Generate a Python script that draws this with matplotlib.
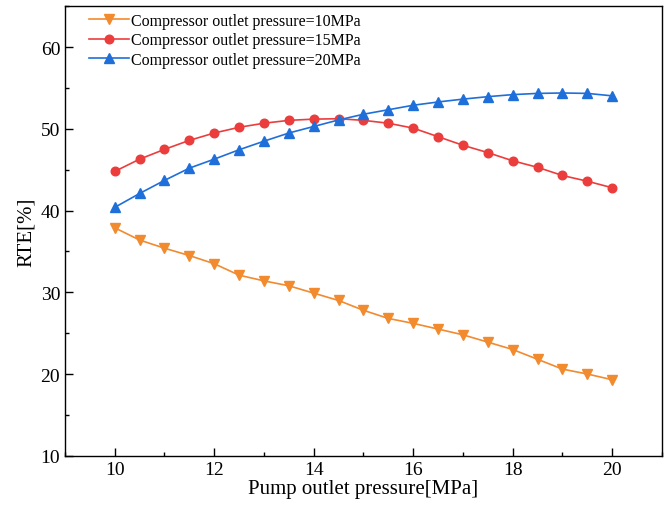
import numpy as np
import matplotlib
matplotlib.use("Agg")
import matplotlib.pyplot as plt
from matplotlib.ticker import MultipleLocator

plt.rcParams['font.family'] = ['Liberation Serif', 'DejaVu Serif']
plt.rcParams['mathtext.fontset'] = 'stix'

# --- data ---
pump_pressure = [10, 10.5, 11, 11.5, 12, 12.5, 13, 13.5, 14, 14.5, 15,
                 15.5, 16, 16.5, 17, 17.5, 18, 18.5, 19, 19.5, 20]
rte_10mpa = [37.9, 36.4, 35.4, 34.5, 33.5, 32.1, 31.4, 30.8, 29.9, 29.0, 27.8,
             26.8, 26.2, 25.5, 24.8, 23.9, 23.0, 21.8, 20.6, 20.0, 19.3]
rte_15mpa = [44.8, 46.3, 47.5, 48.6, 49.5, 50.2, 50.7, 51.05, 51.2, 51.25, 51.05,
             50.7, 50.1, 49.05, 48.0, 47.1, 46.1, 45.3, 44.3, 43.6, 42.8]
rte_20mpa = [40.4, 42.1, 43.7, 45.2, 46.3, 47.45, 48.5, 49.5, 50.3, 51.1, 51.8,
             52.35, 52.9, 53.3, 53.65, 53.95, 54.2, 54.35, 54.4, 54.35, 54.05]
labels = ["Compressor outlet pressure=10MPa",
          "Compressor outlet pressure=15MPa",
          "Compressor outlet pressure=20MPa"]

fig = plt.figure(figsize=(6.7, 5.1), dpi=100)
ax = fig.add_axes([0.097, 0.1045, 0.891, 0.881])

ax.plot(pump_pressure, rte_10mpa, '-v', color='#F28A2E', lw=1.2, ms=6.5, label=labels[0])
ax.plot(pump_pressure, rte_15mpa, '-o', color='#EC3D3D', lw=1.2, ms=6.2, label=labels[1])
ax.plot(pump_pressure, rte_20mpa, '-^', color='#1F6FDA', lw=1.2, ms=6.5, label=labels[2])

ax.set_xlim(9, 21)
ax.set_ylim(10, 65)
ax.xaxis.set_major_locator(MultipleLocator(2))
ax.xaxis.set_minor_locator(MultipleLocator(1))
ax.yaxis.set_major_locator(MultipleLocator(10))
ax.yaxis.set_minor_locator(MultipleLocator(5))
ax.tick_params(which='both', direction='in', top=False, right=False, labelsize=14, width=1.0)
ax.tick_params(which='major', length=6)
ax.tick_params(which='minor', length=3)
for s in ax.spines.values():
    s.set_linewidth(1.0)

ax.set_xlabel("Pump outlet pressure[MPa]", fontsize=15, labelpad=1)
ax.set_ylabel("RTE[%]", fontsize=15, labelpad=3)

ax.legend(loc='upper left', frameon=False, fontsize=11.5, handlelength=2.5,
          handletextpad=0.1, labelspacing=0.22, borderaxespad=0.0,
          bbox_to_anchor=(0.03, 1.0))

fig.savefig("out.png", dpi=100)
